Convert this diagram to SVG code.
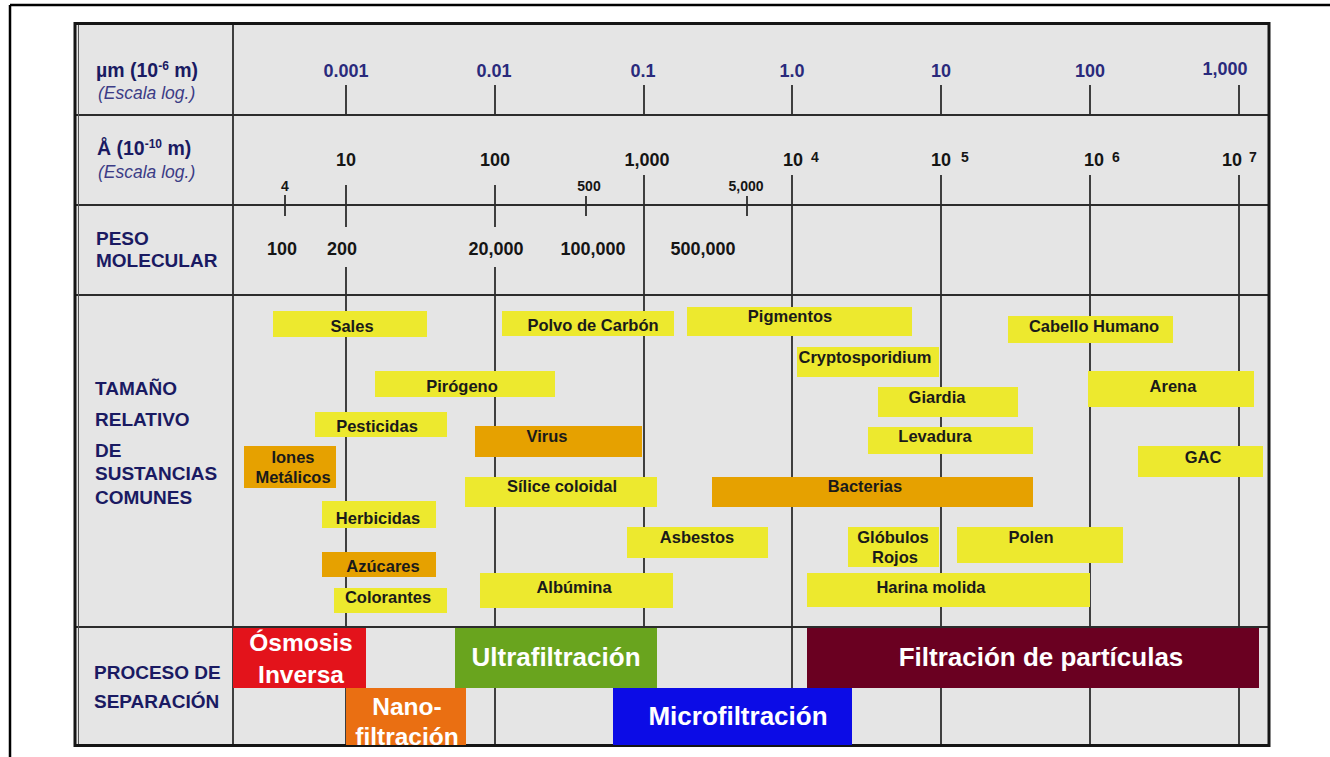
<svg xmlns="http://www.w3.org/2000/svg" width="1330" height="757" viewBox="0 0 1330 757">
  <style>
    .lbl { font-family: "Liberation Sans", Arial, sans-serif; font-weight: bold; font-size: 19px; fill: #1a1a62; }
    .unit { font-family: "Liberation Sans", Arial, sans-serif; font-weight: bold; font-size: 19.5px; fill: #1a1a62; }
    .esc { font-family: "Liberation Sans", Arial, sans-serif; font-style: italic; font-size: 17.5px; fill: #3c3c86; }
    .um { font-family: "Liberation Sans", Arial, sans-serif; font-weight: bold; font-size: 18px; fill: #2a2a7c; text-anchor: middle; }
    .num { font-family: "Liberation Sans", Arial, sans-serif; font-weight: bold; font-size: 18px; fill: #151515; text-anchor: middle; }
    .sm { font-family: "Liberation Sans", Arial, sans-serif; font-weight: bold; font-size: 14px; fill: #151515; text-anchor: middle; }
    .sup { font-size: 12px; }
    .grid { stroke: #2c2c2c; stroke-width: 1.8; fill: none; }
    .y { fill: #ede92e; }
    .o { fill: #e6a100; }
    .bt { font-family: "Liberation Sans", Arial, sans-serif; font-weight: bold; font-size: 16.5px; fill: #1a1a1a; text-anchor: middle; }
    .pt { font-family: "Liberation Sans", Arial, sans-serif; font-weight: bold; font-size: 26px; fill: #ffffff; text-anchor: middle; }
    .pt2 { font-family: "Liberation Sans", Arial, sans-serif; font-weight: bold; font-size: 24.5px; fill: #ffffff; text-anchor: middle; }
  </style>

  <!-- page frame -->
  <rect width="1330" height="757" fill="#ffffff"/>
  <line x1="10" y1="5" x2="1330" y2="5" stroke="#000" stroke-width="2.5"/>
  <line x1="10" y1="5" x2="10" y2="757" stroke="#000" stroke-width="2.5"/>

  <!-- table body -->
  <rect x="75" y="24" width="1194" height="722" fill="#e5e5e5"/>

  <!-- grid lines -->
  <g id="grid" class="grid">
    <line x1="233" y1="24" x2="233" y2="745"/>
    <line x1="75" y1="115" x2="1269" y2="115"/>
    <line x1="75" y1="205" x2="1269" y2="205"/>
    <line x1="75" y1="295" x2="1269" y2="295"/>
    <line x1="75" y1="627" x2="1269" y2="627"/>
    <!-- micrometre ticks -->
    <line x1="346" y1="85" x2="346" y2="115"/>
    <line x1="495" y1="85" x2="495" y2="115"/>
    <line x1="644" y1="85" x2="644" y2="115"/>
    <line x1="792" y1="85" x2="792" y2="115"/>
    <line x1="941" y1="85" x2="941" y2="115"/>
    <line x1="1090" y1="85" x2="1090" y2="115"/>
    <line x1="1239" y1="85" x2="1239" y2="115"/>
    <!-- angstrom / molecular weight ticks -->
    <line x1="285" y1="195" x2="285" y2="216"/>
    <line x1="346" y1="185" x2="346" y2="227"/>
    <line x1="346" y1="267" x2="346" y2="745"/>
    <line x1="495" y1="185" x2="495" y2="227"/>
    <line x1="495" y1="267" x2="495" y2="745"/>
    <line x1="586" y1="196" x2="586" y2="216"/>
    <line x1="644" y1="175" x2="644" y2="745"/>
    <line x1="747" y1="196" x2="747" y2="216"/>
    <line x1="792" y1="175" x2="792" y2="745"/>
    <line x1="941" y1="175" x2="941" y2="745"/>
    <line x1="1090" y1="175" x2="1090" y2="745"/>
    <line x1="1239" y1="175" x2="1239" y2="745"/>
  </g>

  <!-- table border -->
  <rect x="75" y="23.5" width="1194" height="722" fill="none" stroke="#151515" stroke-width="3"/>
  <line x1="78.5" y1="25" x2="78.5" y2="744" stroke="#555" stroke-width="1"/>

  <!-- row headings -->
  <g id="row-headings">
    <text class="unit" x="96" y="77">µm (10<tspan class="sup" dy="-7">-6</tspan><tspan dy="7"> m)</tspan></text>
    <text class="esc" x="98" y="99">(Escala log.)</text>
    <text class="unit" x="97" y="155">Å (10<tspan class="sup" dy="-7">-10</tspan><tspan dy="7"> m)</tspan></text>
    <text class="esc" x="98" y="178">(Escala log.)</text>
    <text class="lbl" x="96" y="245">PESO</text>
    <text class="lbl" x="96" y="267">MOLECULAR</text>
    <text class="lbl" x="95" y="395">TAMAÑO</text>
    <text class="lbl" x="95" y="426">RELATIVO</text>
    <text class="lbl" x="95" y="457">DE</text>
    <text class="lbl" x="95" y="480">SUSTANCIAS</text>
    <text class="lbl" x="95" y="504">COMUNES</text>
    <text class="lbl" x="94" y="679">PROCESO DE</text>
    <text class="lbl" x="94" y="708">SEPARACIÓN</text>
  </g>

  <!-- micrometre scale -->
  <g id="scale-um">
    <text class="um" x="346" y="77">0.001</text>
    <text class="um" x="494" y="77">0.01</text>
    <text class="um" x="643" y="77">0.1</text>
    <text class="um" x="792" y="77">1.0</text>
    <text class="um" x="941" y="77">10</text>
    <text class="um" x="1090" y="77">100</text>
    <text class="um" x="1225" y="75">1,000</text>
  </g>

  <!-- angstrom scale -->
  <g id="scale-angstrom">
    <text class="num" x="346" y="166">10</text>
    <text class="num" x="495" y="166">100</text>
    <text class="num" x="647" y="166">1,000</text>
    <text class="num" x="793" y="166">10</text><text class="sm" x="815" y="162">4</text>
    <text class="num" x="941" y="166">10</text><text class="sm" x="965" y="162">5</text>
    <text class="num" x="1094" y="166">10</text><text class="sm" x="1116" y="162">6</text>
    <text class="num" x="1232" y="166">10</text><text class="sm" x="1253" y="162">7</text>
    <text class="sm" x="285" y="191">4</text>
    <text class="sm" x="589" y="191">500</text>
    <text class="sm" x="746" y="191">5,000</text>
  </g>

  <!-- molecular weight -->
  <g id="scale-mw">
    <text class="num" x="282" y="255">100</text>
    <text class="num" x="342" y="255">200</text>
    <text class="num" x="496" y="255">20,000</text>
    <text class="num" x="593" y="255">100,000</text>
    <text class="num" x="703" y="255">500,000</text>
  </g>

  <!-- common substances -->
  <g id="sales"><rect class="y" x="273" y="311" width="154" height="26"/><text class="bt" x="352" y="332">Sales</text></g>
  <g id="polvo-carbon"><rect class="y" x="502" y="311" width="172" height="25"/><text class="bt" x="593" y="331">Polvo de Carbón</text></g>
  <g id="pigmentos"><rect class="y" x="687" y="307" width="225" height="29"/><text class="bt" x="790" y="322">Pigmentos</text></g>
  <g id="cabello"><rect class="y" x="1008" y="316" width="165" height="27"/><text class="bt" x="1094" y="332">Cabello Humano</text></g>
  <g id="cryptosporidium"><rect class="y" x="797" y="347" width="142" height="30"/><text class="bt" x="865" y="363">Cryptosporidium</text></g>
  <g id="pirogeno"><rect class="y" x="375" y="371" width="180" height="26"/><text class="bt" x="462" y="392">Pirógeno</text></g>
  <g id="arena"><rect class="y" x="1088" y="371" width="166" height="36"/><text class="bt" x="1173" y="392">Arena</text></g>
  <g id="giardia"><rect class="y" x="878" y="387" width="140" height="30"/><text class="bt" x="937" y="403">Giardia</text></g>
  <g id="pesticidas"><rect class="y" x="315" y="412" width="132" height="25"/><text class="bt" x="377" y="432">Pesticidas</text></g>
  <g id="virus"><rect class="o" x="475" y="426" width="167" height="31"/><text class="bt" x="547" y="442">Virus</text></g>
  <g id="levadura"><rect class="y" x="868" y="427" width="165" height="27"/><text class="bt" x="935" y="442">Levadura</text></g>
  <g id="iones"><rect class="o" x="244" y="446" width="92" height="42"/><text class="bt" x="293" y="463">Iones</text><text class="bt" x="293" y="483">Metálicos</text></g>
  <g id="gac"><rect class="y" x="1138" y="446" width="125" height="31"/><text class="bt" x="1203" y="463">GAC</text></g>
  <g id="silice"><rect class="y" x="465" y="477" width="192" height="30"/><text class="bt" x="562" y="492">Sílice coloidal</text></g>
  <g id="bacterias"><rect class="o" x="712" y="477" width="321" height="30"/><text class="bt" x="865" y="492">Bacterias</text></g>
  <g id="herbicidas"><rect class="y" x="322" y="501" width="114" height="27"/><text class="bt" x="378" y="524">Herbicidas</text></g>
  <g id="asbestos"><rect class="y" x="627" y="527" width="141" height="31"/><text class="bt" x="697" y="543">Asbestos</text></g>
  <g id="globulos"><rect class="y" x="848" y="527" width="91" height="40"/><text class="bt" x="893" y="543">Glóbulos</text><text class="bt" x="895" y="563">Rojos</text></g>
  <g id="polen"><rect class="y" x="957" y="527" width="166" height="36"/><text class="bt" x="1031" y="543">Polen</text></g>
  <g id="azucares"><rect class="o" x="322" y="552" width="114" height="25"/><text class="bt" x="383" y="572">Azúcares</text></g>
  <g id="albumina"><rect class="y" x="480" y="573" width="193" height="35"/><text class="bt" x="574" y="593">Albúmina</text></g>
  <g id="harina"><rect class="y" x="807" y="573" width="283" height="34"/><text class="bt" x="931" y="593">Harina molida</text></g>
  <g id="colorantes"><rect class="y" x="334" y="588" width="113" height="25"/><text class="bt" x="388" y="603">Colorantes</text></g>

  <!-- separation processes -->
  <g id="osmosis"><rect x="233" y="628" width="133" height="60" fill="#e3131b"/><text class="pt2" x="301" y="651">Ósmosis</text><text class="pt2" x="301" y="683">Inversa</text></g>
  <g id="ultrafiltracion"><rect x="455" y="628" width="202" height="60" fill="#69a41e"/><text class="pt" x="556" y="666">Ultrafiltración</text></g>
  <g id="particulas"><rect x="807" y="628" width="452" height="60" fill="#6a0021"/><text class="pt" x="1041" y="666">Filtración de partículas</text></g>
  <g id="nanofiltracion"><rect x="346" y="688" width="120" height="57" fill="#ea6f12"/><text class="pt2" x="407" y="715">Nano-</text><text class="pt2" x="407" y="745">filtración</text></g>
  <g id="microfiltracion"><rect x="613" y="688" width="239" height="57" fill="#0c0ce6"/><text class="pt" x="738" y="725">Microfiltración</text></g>
</svg>
